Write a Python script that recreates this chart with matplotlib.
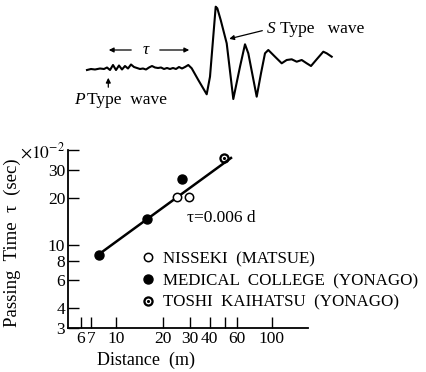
import matplotlib
matplotlib.use("Agg")
import matplotlib.pyplot as plt
from matplotlib.ticker import FixedLocator, FixedFormatter, NullLocator

plt.rcParams["font.family"] = ["Liberation Serif", "DejaVu Serif"]
plt.rcParams["mathtext.fontset"] = "stix"

# seismogram sketch (time, amplitude)
trace_t = [87, 91, 95, 100, 104, 107, 110, 113, 116, 119, 122, 125, 128, 131, 134,
           137, 140, 143, 146, 149, 152, 155, 158, 161, 164, 167, 170, 173, 176, 179,
           182, 185, 188.3, 191.7, 198.3, 206.7, 210, 215.7, 217.3, 220.7, 226.7,
           233.3, 240, 245, 248.3, 256.7, 261, 265, 268.3, 275, 281.7, 286.7, 291.7,
           296.7, 301.7, 306.7, 311, 316.7, 323.3, 326.7, 331.7]
trace_amp = [0, 1, 0.5, 1.5, 1, 2.5, 0, 5, 0, 4.5, 0.5, 4, 1.5, 5.5, 3, 2, 1, 1.5,
             0.5, 2.5, 4, 2.5, 2, 2.5, 1, 2, 1, 2, 1, 3, 1.5, 3, 5, 1.7, -10, -24.3,
             -6.7, 63.3, 61.7, 50, 26.7, -29, 3.3, 25.7, 16.7, -26.7, -3.3, 16.7, 20,
             13.3, 6.7, 10, 10.7, 8.3, 10, 6.7, 4, 10.7, 18.3, 16.7, 13.3]

# passing time vs distance (tau in 1e-2 sec)
nisseki_d = [24.8, 29.6]
nisseki_tau = [20.1, 20.1]
medical_d = [7.85, 15.8, 26.7]
medical_tau = [8.7, 14.6, 26.2]
toshi_d = [49.5]
toshi_tau = [35.6]
fit_d = [8.13, 55.7]
fit_tau = [9.03, 36.0]

x_ticks = [6, 7, 10, 20, 30, 40, 50, 60, 100]
x_labels = ["6", "7", "10", "20", "30", "40", "", "60", "100"]
y_ticks = [3, 4, 6, 8, 10, 20, 30, 40]
y_labels = ["3", "4", "6", "8", "10", "20", "30", r"$\times10^{-2}$"]

W, H = 427, 372
fig = plt.figure(figsize=(W / 100, H / 100), dpi=100)


def px(x, y):
    # pixel position (from top-left) -> figure fraction
    return x / W, 1 - y / H


# --- wave sketch ---
top = fig.add_axes([0, 1 - 110 / H, 1, 110 / H])
top.set_xlim(0, W)
top.set_ylim(-40, 70)
top.axis("off")
top.plot(trace_t, trace_amp, color="black", lw=1.5)
arrow = dict(arrowstyle="-|>", color="black", lw=0.9, mutation_scale=7)
top.annotate("", xy=(106, 20), xytext=(134, 20), arrowprops=arrow)
top.annotate("", xy=(192, 20), xytext=(157, 20), arrowprops=arrow)
top.text(145.5, 20, "τ", fontsize=12.5, style="italic", ha="center", va="center")
top.annotate("", xy=(226.5, 30.5), xytext=(265, 40), arrowprops=arrow)
top.text(267, 41, "S", fontsize=12.5, style="italic", ha="left", va="center")
top.text(280, 41, "Type   wave", fontsize=12.5, ha="left", va="center")
top.annotate("", xy=(108.3, -5), xytext=(108.3, -20), arrowprops=arrow)
top.text(74, -30, "P", fontsize=12.5, style="italic", ha="left", va="center")
top.text(87, -30, "Type  wave", fontsize=12.5, ha="left", va="center")

# --- log-log plot ---
ax = fig.add_axes([68 / W, 1 - 328 / H, 240 / W, 178 / H])
ax.set_xscale("log")
ax.set_yscale("log")
ax.set_xlim(4.95, 171)
ax.set_ylim(3, 40)

ax.plot(fit_d, fit_tau, color="black", lw=1.8, solid_capstyle="butt")
ax.plot(nisseki_d, nisseki_tau, "o", ms=6, mfc="white", mec="black", mew=1.1,
        label="NISSEKI  (MATSUE)")
ax.plot(medical_d, medical_tau, "o", ms=6.5, mfc="black", mec="black",
        label="MEDICAL  COLLEGE  (YONAGO)")
ax.plot(toshi_d, toshi_tau, marker=r"$\odot$", ms=6.5, color="black", ls="none",
        label="TOSHI  KAIHATSU  (YONAGO)")

fig.text(*px(187, 218), "τ=0.006 d", fontsize=12.5, va="center")

ax.spines["top"].set_visible(False)
ax.spines["right"].set_visible(False)
for s in ("left", "bottom"):
    ax.spines[s].set_linewidth(1.3)

ax.xaxis.set_major_locator(FixedLocator(x_ticks))
ax.xaxis.set_major_formatter(FixedFormatter(x_labels))
ax.xaxis.set_minor_locator(NullLocator())
ax.yaxis.set_major_locator(FixedLocator(y_ticks))
ax.yaxis.set_major_formatter(FixedFormatter(y_labels))
ax.yaxis.set_minor_locator(NullLocator())
ax.tick_params(direction="in", length=8, width=1, labelsize=12.5, pad=2)

ax.set_xlabel("Distance  (m)", fontsize=13)
ax.xaxis.set_label_coords(*px(146, 352), transform=fig.transFigure)
ax.set_ylabel("Passing  Time  τ  (sec)", fontsize=13.5)
ax.yaxis.set_label_coords(*px(21, 243), transform=fig.transFigure)

ax.legend(loc="upper left", bbox_to_anchor=px(141, 251),
          bbox_transform=fig.transFigure, frameon=False, fontsize=12.2,
          handlelength=0.8, handletextpad=0.5, labelspacing=0.35,
          borderpad=0, borderaxespad=0)

fig.savefig("out.png", dpi=100)
